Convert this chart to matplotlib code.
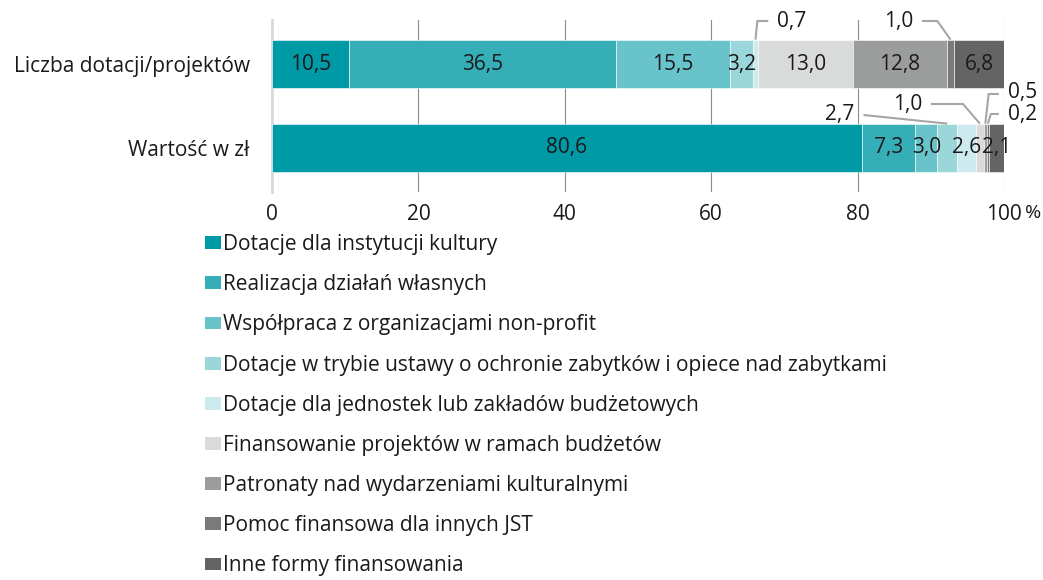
import matplotlib
matplotlib.use("Agg")
import matplotlib.pyplot as plt
from matplotlib.patches import Patch

plt.rcParams['font.family'] = ['Open Sans', 'DejaVu Sans']

# dane
kategorie = ['Wartość w zł', 'Liczba dotacji/projektów']
formy = ['Dotacje dla instytucji kultury',
         'Realizacja działań własnych',
         'Współpraca z organizacjami non-profit',
         'Dotacje w trybie ustawy o ochronie zabytków i opiece nad zabytkami',
         'Dotacje dla jednostek lub zakładów budżetowych',
         'Finansowanie projektów w ramach budżetów',
         'Patronaty nad wydarzeniami kulturalnymi',
         'Pomoc finansowa dla innych JST',
         'Inne formy finansowania']
kolory = ['#009aa6', '#35aeb8', '#68c3cb', '#9bd6db', '#cdebee',
          '#d9dada', '#9b9c9c', '#7a7a7a', '#646464']
wartosc = [80.6, 7.3, 3.0, 2.7, 2.6, 1.0, 0.5, 0.2, 2.1]
liczba = [10.5, 36.5, 15.5, 3.2, 0.7, 13.0, 12.8, 1.0, 6.8]
x_ticks = [0, 20, 40, 60, 80, 100]
x_tick_labels = ['0', '20', '40', '60', '80', '100']

# etykiety poza słupkiem: (wiersz, indeks) -> pozycja tekstu, wyrównanie, punkt załamania linii
odnosniki = {
    (1, 4): ((69.0, 1.512), 'left', (66.3, 1.512)),
    (1, 7): ((87.6, 1.512), 'right', (90.9, 1.512)),
    (0, 3): ((79.6, 0.393), 'right', None),
    (0, 5): ((88.8, 0.512), 'right', (94.4, 0.524)),
    (0, 6): ((100.5, 0.655), 'left', (97.9, 0.643)),
    (0, 7): ((100.5, 0.393), 'left', (98.2, 0.405)),
}

FS = 15
bar_h = 0.58
fig = plt.figure(figsize=(10.43, 5.8), dpi=100)
ax = fig.add_axes([272 / 1043, 388 / 580, 732 / 1043, 172 / 580])

wiersze = [wartosc, liczba]
for r, vals in enumerate(wiersze):
    left = 0
    for i, v in enumerate(vals):
        ax.barh(r, v, left=left, height=bar_h, color=kolory[i],
                edgecolor='white', linewidth=0.4, zorder=3)
        mid = left + v / 2
        txt = f'{v:.1f}'.replace('.', ',')
        if (r, i) in odnosniki:
            (tx, ty), ha, elbow = odnosniki[(r, i)]
            ax.text(tx, ty, txt, ha=ha, va='center', fontsize=FS, color='#1a1a1a')
            start = tx + 1.2 if ha == 'right' else tx - 1.2
            xs = [start]
            ys = [ty if elbow is None else elbow[1]]
            if elbow is not None:
                xs.append(elbow[0])
                ys.append(elbow[1])
            xs.append(mid)
            ys.append(r + bar_h / 2)
            ax.plot(xs, ys, color='#a6a6a6', lw=1.5, zorder=4, clip_on=False,
                    solid_capstyle='butt')
        else:
            ax.text(mid, r, txt, ha='center', va='center', fontsize=FS,
                    color='#1a1a1a', zorder=5)
        left += v

ax.set_xlim(0, 100)
ax.set_ylim(-0.524, 1.524)
ax.set_xticks(x_ticks)
ax.set_xticklabels(x_tick_labels, fontsize=FS, color='#1a1a1a')
ax.set_yticks([0, 1])
ax.set_yticklabels(kategorie, fontsize=FS, color='#1a1a1a')
ax.tick_params(axis='both', length=0)
ax.tick_params(axis='x', pad=9)
ax.tick_params(axis='y', pad=16)
for t in x_ticks[1:-1]:
    ax.axvline(t, color='#8c8c8c', lw=0.8, zorder=1)
ax.axvline(100, color='#8c8c8c', lw=0.8, zorder=1)
for s in ['top', 'right', 'bottom']:
    ax.spines[s].set_visible(False)
ax.spines['left'].set_color('#d9d9d9')
ax.spines['left'].set_linewidth(2)
ax.spines['left'].set_zorder(2)

ax.annotate('%', xy=(100, 0), xycoords=('data', 'axes fraction'),
            xytext=(15, -9), textcoords='offset points', ha='left', va='top',
            fontsize=14, color='#1a1a1a')

uchwyty = [Patch(facecolor=c, edgecolor='none') for c in kolory]
fig.legend(uchwyty, formy, loc='upper left', bbox_to_anchor=(205 / 1043, 1 - 234 / 580),
           frameon=False, fontsize=FS, handlelength=0.75, handleheight=0.58,
           handletextpad=0.12, labelspacing=0.92, borderpad=0, borderaxespad=0,
           labelcolor='#1a1a1a')

fig.savefig('out.png', dpi=100, facecolor='white')
